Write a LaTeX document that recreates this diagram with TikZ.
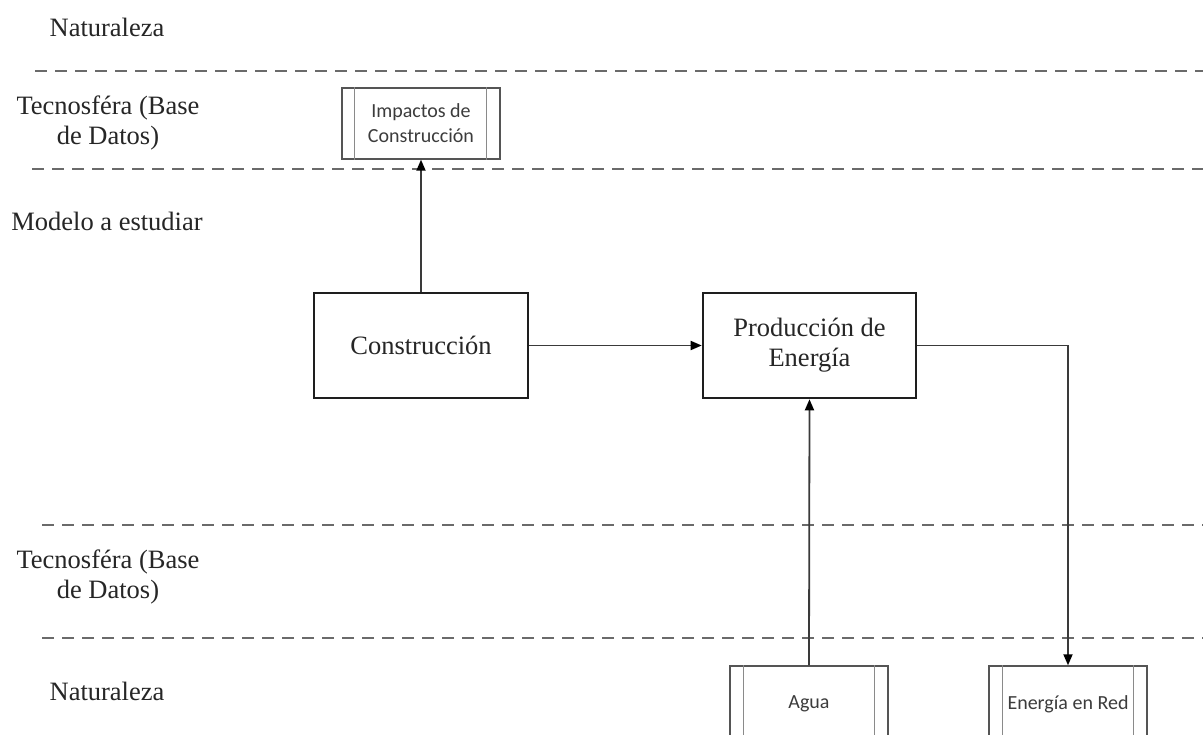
\documentclass[tikz,border=0pt]{standalone}
\usepackage{fontspec}
\setmainfont{Liberation Serif}
\newfontfamily\calibrifont{Carlito}
\usetikzlibrary{arrows.meta}
\definecolor{boxline}{HTML}{1E1E1E}
\definecolor{arrline}{HTML}{3A3A3A}
\definecolor{dashline}{HTML}{6A6A6A}
\definecolor{dbline}{HTML}{555555}
\definecolor{innerline}{HTML}{8A8A8A}
\definecolor{dbtext}{HTML}{3C3C3C}
\tikzset{
  mainbox/.style={draw=boxline, line width=2.6pt, minimum width=213pt, minimum height=105pt, inner sep=0pt,
    align=center, font=\fontsize{26.5}{30}\selectfont, text=black!85},
  dbbox/.style={draw=dbline, line width=1.4pt, minimum width=158pt, inner sep=0pt, align=center,
    font=\calibrifont\fontsize{20}{25}\selectfont, text=dbtext},
  flow/.style={draw=arrline, line width=1.8pt, -{Triangle[length=11pt,width=9pt,fill=black,color=black]}},
  sep/.style={draw=dashline, line width=2pt, dash pattern=on 12pt off 8pt},
  lbl/.style={align=center, font=\fontsize{26.5}{29.5}\selectfont, inner sep=0pt, text=black!85},
  inner bar/.style={draw=innerline, line width=1.4pt}
}
\begin{document}
\begin{tikzpicture}[x=1pt,y=-1pt]
\useasboundingbox (0,0) rectangle (1203,735);
\clip (0,0) rectangle (1203,735);
\fill[white] (0,0) rectangle (1203,735);

% separators
\draw[sep] (35,71) -- (1203,71);
\draw[sep] (32,169) -- (1203,169);
\draw[sep] (42,525) -- (1203,525);
\draw[sep] (42,638) -- (1203,638);

% layer labels
\node[lbl] (l1) at (107,27) {Naturaleza};
\node[lbl] (l2) at (108,123) {Tecnosféra (Base\\de Datos)};
\node[lbl] (l3) at (107,221) {Modelo a estudiar};
\node[lbl] (l4) at (108,577) {Tecnosféra (Base\\de Datos)};
\node[lbl] (l5) at (107,691) {Naturaleza};

% process boxes
\node[mainbox, minimum width=214pt] (cons) at (421,345.5) {Construcción};
\node[mainbox] (prod) at (809.5,345.5) {Producción de\\Energía};

% database boxes
\node[dbbox, minimum height=71pt] (imp) at (421,123.5) {Impactos de\\Construcción};
\draw[inner bar] ([xshift=13pt]imp.north west) -- ([xshift=13pt]imp.south west);
\draw[inner bar] ([xshift=-14pt]imp.north east) -- ([xshift=-14pt]imp.south east);

\node[dbbox, minimum height=76pt] (agua) at (809,704) {Agua};
\draw[inner bar] ([xshift=14pt]agua.north west) -- ([xshift=14pt]agua.south west);
\draw[inner bar] ([xshift=-14pt]agua.north east) -- ([xshift=-14pt]agua.south east);

\node[dbbox, minimum height=76pt] (red) at (1068,704) {Energía en Red};
\draw[inner bar] ([xshift=14pt]red.north west) -- ([xshift=14pt]red.south west);
\draw[inner bar] ([xshift=-14pt]red.north east) -- ([xshift=-14pt]red.south east);

% connectors
\draw[flow] (cons.north) -- (imp.south);
\draw[flow] (cons.east) -- (prod.west);
\draw[flow] (agua.north) -- (prod.south);
\draw[flow] (prod.east) -| (red.north);
\end{tikzpicture}
\end{document}
